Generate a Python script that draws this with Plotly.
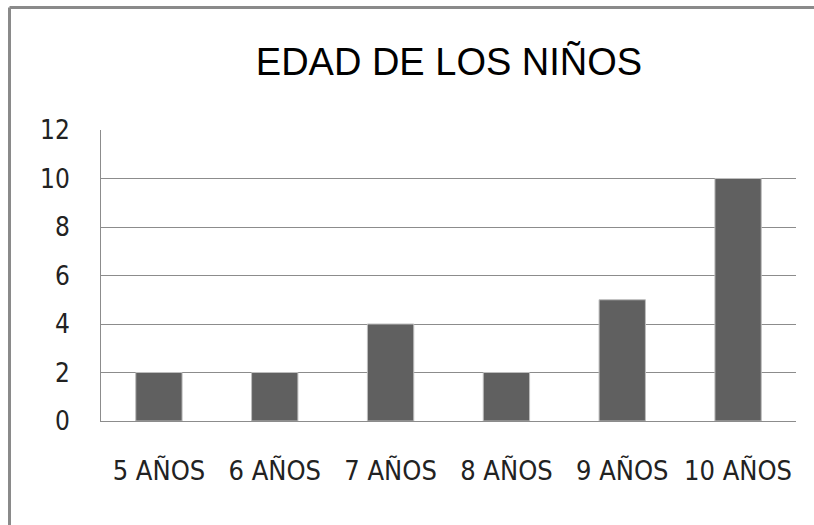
import plotly.graph_objects as go

categories = ["5 AÑOS", "6 AÑOS", "7 AÑOS", "8 AÑOS", "9 AÑOS", "10 AÑOS"]
values = [2, 2, 4, 2, 5, 10]
y_ticks = [0, 2, 4, 6, 8, 10, 12]
title_text = "EDAD DE LOS NIÑOS"

W, H = 814, 525
L, R, T, B = 101, 18, 130, 104
pw, ph = W - L - R, H - T - B

def px_x(px):
    return (px - L) / pw

def px_y(py):
    return (H - B - py) / ph

fig = go.Figure(go.Bar(
    x=categories, y=values,
    marker=dict(color="#606060", line=dict(color="#bdbdbd", width=1)),
    width=0.4,
))

border = dict(color="#8a8a8a", width=3)
fig.add_shape(type="line", xref="paper", yref="paper",
              x0=px_x(9.5), x1=px_x(W + 5), y0=px_y(7.5), y1=px_y(7.5), line=border)
fig.add_shape(type="line", xref="paper", yref="paper",
              x0=px_x(9.5), x1=px_x(9.5), y0=px_y(7.5), y1=px_y(H + 5), line=border)

fig.update_layout(
    width=W, height=H,
    margin=dict(l=L, r=R, t=T, b=B),
    paper_bgcolor="white", plot_bgcolor="white",
    showlegend=False,
    title=dict(text=title_text, x=449 / W, xanchor="center",
               y=1 - 62 / H, yanchor="middle",
               font=dict(family="Liberation Sans", size=38, color="black")),
    xaxis=dict(showgrid=False, showline=True, linecolor="#8c8c8c", linewidth=1,
               ticks="", ticklabelstandoff=26,
               tickfont=dict(family="DejaVu Sans Condensed", size=27, color="#222")),
    yaxis=dict(range=[0, 12], tickvals=y_ticks, showgrid=True, gridcolor="#8c8c8c",
               gridwidth=1, showline=True, linecolor="#8c8c8c", linewidth=1,
               zeroline=False, ticks="", ticklabelstandoff=25,
               tickfont=dict(family="DejaVu Sans Condensed", size=26, color="#222")),
)

fig.write_html("out.html", config={"displayModeBar": False},
               post_script="document.body.style.margin='0';")
